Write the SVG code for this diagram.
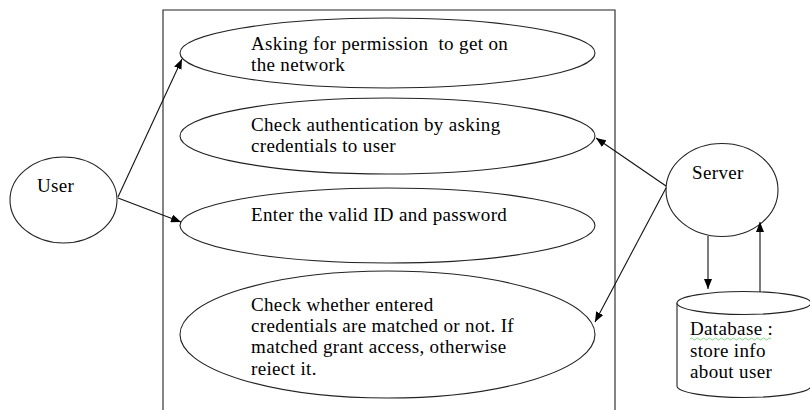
<svg xmlns="http://www.w3.org/2000/svg" width="810" height="410" viewBox="0 0 810 410">
<style>
.s{fill:#fff;stroke:#222;stroke-width:1.1}
.t{font-family:"Liberation Serif","Times New Roman",serif;font-size:19px;letter-spacing:0.35px;fill:#000}
.c{stroke:#111;stroke-width:1.1;fill:none;marker-end:url(#ah)}
</style>
<defs>
<marker id="ah" viewBox="0 0 10 8" refX="10" refY="4" markerWidth="10" markerHeight="8" markerUnits="userSpaceOnUse" orient="auto">
<path d="M0,0 L10,4 L0,8 z" fill="#000"/>
</marker>
</defs>
<rect width="810" height="410" fill="#fff"/>
<g id="system"><path class="s" d="M163,410 L163,10 L615,10 L615,410" fill="none"/></g>
<g id="uc1"><ellipse class="s" cx="387.5" cy="53" rx="207.5" ry="35"/>
<text class="t" x="251" y="50" style="white-space:pre">Asking for permission  to get on</text>
<text class="t" x="251" y="71">the network</text></g>
<g id="uc2"><ellipse class="s" cx="387.5" cy="136" rx="207.5" ry="38"/>
<text class="t" x="251" y="131">Check authentication by asking</text>
<text class="t" x="251" y="152">credentials to user</text></g>
<g id="uc3"><ellipse class="s" cx="387.5" cy="225.5" rx="207.5" ry="37.5"/>
<text class="t" x="251" y="221">Enter the valid ID and password</text></g>
<g id="uc4"><ellipse class="s" cx="387.5" cy="334.5" rx="207.5" ry="63.5"/>
<text class="t" x="251" y="311">Check whether entered</text>
<text class="t" x="251" y="332">credentials are matched or not. If</text>
<text class="t" x="251" y="353">matched grant access, otherwise</text>
<text class="t" x="251" y="375">reiect it.</text></g>
<g id="user"><ellipse class="s" cx="63.5" cy="200" rx="53.5" ry="43"/>
<text class="t" x="37" y="192">User</text></g>
<g id="server"><ellipse class="s" cx="722" cy="190" rx="56" ry="46.5"/>
<text class="t" x="692" y="179">Server</text></g>
<g id="database">
<path class="s" d="M677,303 L677,386 A67,11.5 0 0 0 811,386 L811,303"/>
<ellipse class="s" cx="744" cy="303" rx="67" ry="11.5"/>
<text class="t" x="690" y="335">Database :</text>
<path d="M690,339 q1.5,-2 3,0 t3,0 t3,0 t3,0 t3,0 t3,0 t3,0 t3,0 t3,0 t3,0 t3,0 t3,0 t3,0 t3,0 t3,0 t3,0 t3,0 t3,0 t3,0 t3,0 t3,0 t3,0 t3,0 t3,0 t3,0 t3,0 t3,0" fill="none" stroke="#6c6" stroke-width="0.8"/>
<text class="t" x="690" y="357">store info</text>
<text class="t" x="690" y="378">about user</text>
</g>
<g id="connectors">
<line class="c" x1="118" y1="197" x2="182" y2="59"/>
<line class="c" x1="118" y1="198" x2="181" y2="222"/>
<line class="c" x1="666" y1="186" x2="596" y2="138"/>
<line class="c" x1="666" y1="188" x2="595" y2="322"/>
<line class="c" x1="708" y1="236" x2="708" y2="289"/>
<line class="c" x1="760" y1="292" x2="760" y2="222"/>
</g>
</svg>
